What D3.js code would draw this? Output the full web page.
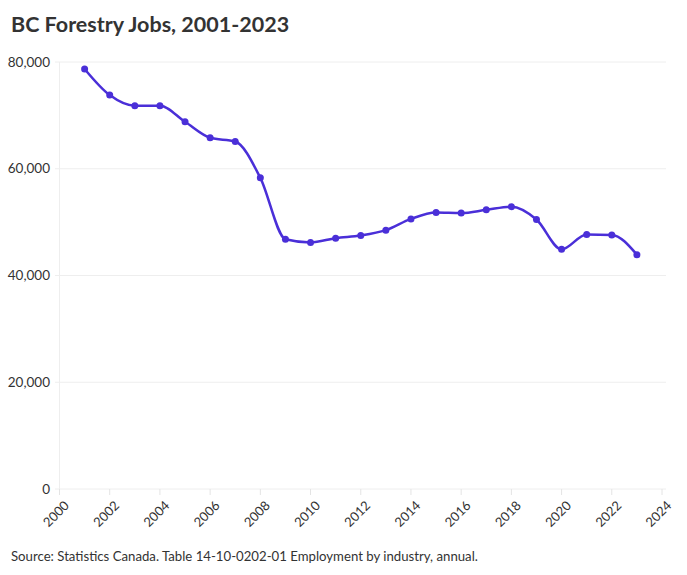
<!DOCTYPE html>
<html>
<head>
<meta charset="utf-8">
<title>BC Forestry Jobs</title>
<script src="https://cdn.jsdelivr.net/npm/d3@7"></script>
<style>
  body { margin: 0; background: #fff; font-family: "Source Sans Pro", Lato, "Noto Sans", sans-serif; }
</style>
</head>
<body>
<div id="chart"></div>
<script>
// data
var years = [2001, 2002, 2003, 2004, 2005, 2006, 2007, 2008, 2009, 2010, 2011, 2012,
             2013, 2014, 2015, 2016, 2017, 2018, 2019, 2020, 2021, 2022, 2023];
var jobs = [78700, 73800, 71800, 71800, 68800, 65800, 65100, 58300, 46800, 46200, 47000, 47500,
            48500, 50600, 51800, 51700, 52300, 52900, 50500, 44900, 47700, 47600, 43900];
var yTicks = [0, 20000, 40000, 60000, 80000];
var xTicks = [2000, 2002, 2004, 2006, 2008, 2010, 2012, 2014, 2016, 2018, 2020, 2022, 2024];

var W = 687, H = 575;
var svg = d3.select("#chart").append("svg").attr("width", W).attr("height", H);

var x = d3.scaleLinear().domain([2000, 2024]).range([59.5, 662]);
var y = d3.scaleLinear().domain([0, 80000]).range([489, 62]);

// gridlines
svg.append("g").selectAll("line").data(yTicks).join("line")
  .attr("x1", 55).attr("x2", 666)
  .attr("y1", function (d) { return y(d); }).attr("y2", function (d) { return y(d); })
  .attr("stroke", "#eeeeee");
svg.append("line").attr("x1", x(2000)).attr("x2", x(2000)).attr("y1", 62).attr("y2", 493)
  .attr("stroke", "#eeeeee");

// y labels
svg.append("g").selectAll("text").data(yTicks).join("text")
  .attr("x", 50).attr("y", function (d) { return y(d); }).attr("dy", "0.35em")
  .attr("text-anchor", "end").attr("font-size", 13.5).attr("fill", "#333")
  .text(d3.format(","));

// x ticks + labels
var xg = svg.append("g");
xg.selectAll("line").data(xTicks).join("line")
  .attr("x1", function (d) { return x(d); }).attr("x2", function (d) { return x(d); })
  .attr("y1", 489).attr("y2", 495).attr("stroke", "#e4e4e4");
xg.selectAll("text").data(xTicks).join("text")
  .attr("transform", function (d) { return "translate(" + (x(d) + 4) + ",500) rotate(-45)"; })
  .attr("text-anchor", "end").attr("dy", "0.7em").attr("font-size", 13).attr("fill", "#333")
  .text(function (d) { return d; });

var pts = years.map(function (d, i) { return [d, jobs[i]]; });
var line = d3.line()
  .x(function (d) { return x(d[0]); }).y(function (d) { return y(d[1]); })
  .curve(d3.curveMonotoneX);
svg.append("path").datum(pts).attr("d", line)
  .attr("fill", "none").attr("stroke", "#4a2fd8").attr("stroke-width", 2.5);
svg.append("g").selectAll("circle").data(pts).join("circle")
  .attr("cx", function (d) { return x(d[0]); }).attr("cy", function (d) { return y(d[1]); })
  .attr("r", 3.5).attr("fill", "#4a2fd8");

svg.append("text").attr("x", 11).attr("y", 32).attr("font-size", 21.5).attr("font-weight", "bold")
  .attr("fill", "#333").text("BC Forestry Jobs, 2001-2023");
svg.append("text").attr("x", 11).attr("y", 561).attr("font-size", 13.2)
  .attr("fill", "#333").text("Source: Statistics Canada. Table 14-10-0202-01 Employment by industry, annual.");
</script>
</body>
</html>
